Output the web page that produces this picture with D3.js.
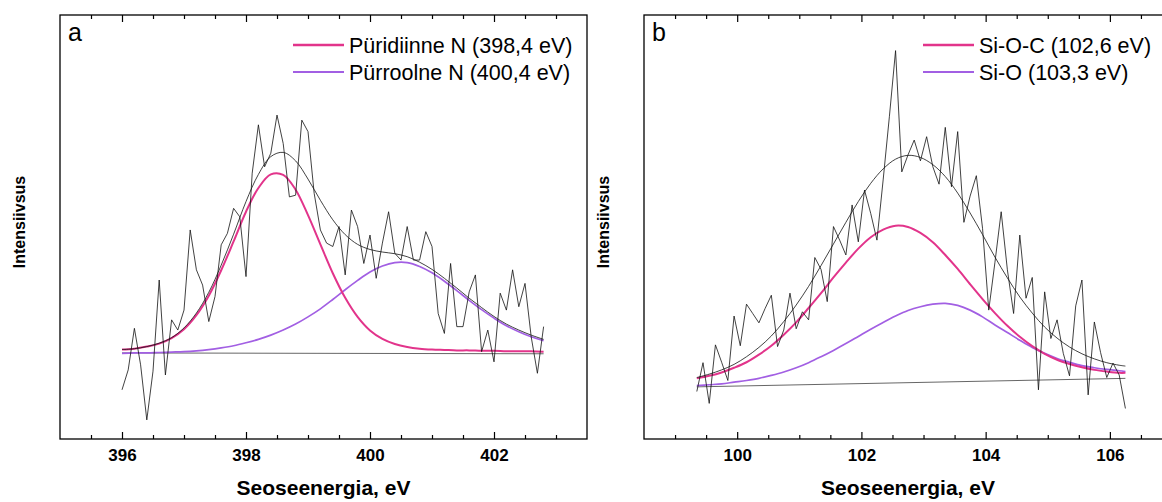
<!DOCTYPE html>
<html>
<head>
<meta charset="utf-8">
<script src="https://cdn.jsdelivr.net/npm/d3@7"></script>
<style>
  body { margin: 0; background: #fff; }
  svg { display: block; }
  text { font-family: "Liberation Sans", Arial, sans-serif; }
</style>
</head>
<body>
<svg id="chart" width="1162" height="502"></svg>
<script>
// ---- panel a: N 1s ----
const aRawStart = 396.0, aRawStep = 0.1
const aRaw = [11.6, 16.3, 26.1, 17.5, 4.5, 16.0, 37.5, 15.1, 28.1, 25.7,
  30.4, 49.3, 39.9, 36.3, 27.7, 33.6, 45.8, 48.5, 54.4, 52.4,
  38.3, 62.7, 74.1, 64.2, 67.4, 76.4, 69.7, 57.1, 57.5, 75.2,
  72.5, 57.9, 49.3, 46.2, 45.4, 50.1, 38.7, 54.0, 50.1, 41.4,
  48.1, 37.9, 46.2, 53.6, 43.8, 42.2, 50.1, 42.2, 42.2, 48.9,
  45.4, 29.6, 24.9, 41.4, 26.5, 26.5, 34.7, 38.7, 20.6, 25.7,
  18.2, 34.4, 30.4, 39.9, 31.2, 36.7, 24.1, 15.5, 26.5]
const aFitE = [396.0, 396.2, 396.4, 396.6, 396.8, 397.0, 397.2, 397.4, 397.6, 397.8,
  398.0, 398.2, 398.4, 398.6, 398.8, 399.0, 399.2, 399.4, 399.6, 399.8,
  400.0, 400.2, 400.4, 400.6, 400.8, 401.0, 401.2, 401.4, 401.6, 401.8,
  402.0, 402.2, 402.4, 402.6, 402.8]
const aPyridinic = [21.1, 21.3, 21.8, 22.5, 23.8, 25.9, 29.2, 33.8, 39.8, 46.6,
  53.6, 59.2, 62.4, 62.3, 58.8, 52.8, 45.9, 39.1, 33.3, 28.8,
  25.6, 23.6, 22.4, 21.7, 21.3, 21.1, 21.0, 20.9, 20.9, 20.8,
  20.8, 20.7, 20.7, 20.7, 20.6]
const aPyrrolic = [20.2, 20.3, 20.3, 20.4, 20.5, 20.6, 20.8, 21.1, 21.5, 22.0,
  22.7, 23.5, 24.5, 25.7, 27.1, 28.8, 30.7, 32.9, 35.2, 37.4,
  39.4, 40.8, 41.6, 41.6, 40.7, 39.2, 37.2, 35.0, 32.7, 30.5,
  28.5, 26.7, 25.3, 24.1, 23.2]
const aEnvelope = [21.1, 21.3, 21.8, 22.6, 23.9, 26.2, 29.7, 34.6, 41.0, 48.3,
  56.0, 62.4, 66.6, 67.6, 65.6, 61.3, 56.3, 51.7, 48.2, 45.9,
  44.7, 44.1, 43.7, 43.0, 41.7, 40.0, 37.9, 35.6, 33.2, 31.0,
  28.9, 27.1, 25.7, 24.5, 23.5]
const aBaseline = [[396.0, 20.3], [402.8, 20.1]]
const aLegend = ["Püridiinne N (398,4 eV)", "Pürroolne N (400,4 eV)"]
const aTicks = [396, 398, 400, 402]

// ---- panel b: Si 2p ----
const bRawStart = 99.35, bRawStep = 0.1
const bRaw = [11.2, 18.0, 8.4, 22.2, 18.1, 13.8, 29.0, 22.0, 31.8, 29.6,
  27.4, 30.8, 33.9, 21.8, 25.7, 34.4, 26.0, 30.0, 28.1, 42.8,
  40.0, 32.4, 50.1, 46.9, 43.4, 55.2, 46.5, 58.7, 53.2, 46.9,
  61.1, 76.0, 91.6, 63.0, 67.0, 70.5, 65.6, 71.3, 64.2, 60.1,
  73.5, 59.5, 72.5, 51.1, 57.3, 62.1, 49.7, 30.4, 41.7, 53.6,
  39.9, 29.6, 48.1, 33.2, 38.1, 11.6, 34.7, 23.7, 28.1, 20.2,
  14.9, 31.4, 37.5, 10.4, 27.6, 20.4, 14.5, 17.9, 15.1, 7.2]
const bFitE = [99.35, 99.55, 99.75, 99.95, 100.15, 100.35, 100.55, 100.75, 100.95, 101.15,
  101.35, 101.55, 101.75, 101.95, 102.15, 102.35, 102.55, 102.75, 102.95, 103.15,
  103.35, 103.55, 103.75, 103.95, 104.15, 104.35, 104.55, 104.75, 104.95, 105.15,
  105.35, 105.55, 105.75, 105.95, 106.15, 106.25]
const bSiOC = [14.3, 14.9, 15.7, 16.8, 18.1, 19.9, 22.0, 24.6, 27.5, 30.9,
  34.4, 38.1, 41.6, 44.9, 47.6, 49.4, 50.3, 50.0, 48.6, 46.4,
  43.4, 40.1, 36.5, 33.0, 29.7, 26.7, 24.1, 21.9, 20.1, 18.7,
  17.7, 16.9, 16.3, 15.9, 15.6, 15.6]
const bSiO = [12.6, 12.8, 13.0, 13.4, 13.8, 14.3, 15.0, 15.8, 16.8, 18.0,
  19.4, 20.9, 22.5, 24.2, 25.9, 27.5, 29.0, 30.3, 31.2, 31.8,
  32.0, 31.5, 30.4, 28.8, 26.9, 25.1, 23.3, 21.6, 20.2, 19.0,
  18.1, 17.3, 16.8, 16.4, 16.1, 15.9]
const bEnvelope = [14.5, 15.3, 16.3, 17.6, 19.4, 21.6, 24.3, 27.7, 31.6, 36.0,
  40.9, 46.0, 51.1, 56.0, 60.3, 63.7, 66.0, 66.9, 66.4, 64.7,
  61.9, 58.0, 53.3, 48.2, 42.9, 38.0, 33.5, 29.7, 26.4, 23.8,
  21.7, 20.1, 18.9, 18.0, 17.4, 17.2]
const bBaseline = [[99.35, 12.3], [106.25, 14.3]]
const bLegend = ["Si-O-C (102,6 eV)", "Si-O (103,3 eV)"]
const bTicks = [100, 102, 104, 106]

const pink = "#e2348b"
const purple = "#a25fe3"

const svg = d3.select("#chart")
const plotTop = 15, plotBottom = 439

function zip(xs, ys) { return xs.map((e, i) => [e, ys[i]]) }
function rawPairs(start, step, vals) { return vals.map((v, i) => [start + i * step, v]) }

function drawPanel(p) {
  const x = d3.scaleLinear().domain(p.xDomain).range([p.left, p.right])
  const y = d3.scaleLinear().domain([0, 100]).range([plotBottom, plotTop])
  const g = svg.append("g")

  const line = d3.line().x((d) => x(d[0])).y((d) => y(d[1]))
  const smooth = d3.line().x((d) => x(d[0])).y((d) => y(d[1])).curve(d3.curveCatmullRom)

  // baseline, components, raw data, envelope
  g.append("path").attr("d", line(p.baseline)).attr("fill", "none").attr("stroke", "#555").attr("stroke-width", 0.9)
  g.append("path").attr("d", smooth(zip(p.fitE, p.comp2))).attr("fill", "none").attr("stroke", purple).attr("stroke-width", 1.7)
  g.append("path").attr("d", smooth(zip(p.fitE, p.comp1))).attr("fill", "none").attr("stroke", pink).attr("stroke-width", 2)
  g.append("path").attr("d", line(rawPairs(p.rawStart, p.rawStep, p.raw))).attr("fill", "none").attr("stroke", "#111").attr("stroke-width", 0.8)
  g.append("path").attr("d", smooth(zip(p.fitE, p.envelope))).attr("fill", "none").attr("stroke", "#111").attr("stroke-width", 0.8)

  // frame
  g.append("rect").attr("x", p.left).attr("y", plotTop).attr("width", p.right - p.left).attr("height", plotBottom - plotTop)
    .attr("fill", "none").attr("stroke", "#000").attr("stroke-width", 1.3)

  const minor = d3.range(p.xDomain[0] + 0.5, p.xDomain[1], 0.5).filter((v) => !p.ticks.includes(v))

  const axB = g.append("g").attr("transform", `translate(0,${plotBottom})`)
    .call(d3.axisBottom(x).tickValues(p.ticks).tickSize(-7).tickPadding(10).tickFormat(d3.format("d")))
  axB.append("g").call(d3.axisBottom(x).tickValues(minor).tickSize(-4).tickFormat(""))
  const axT = g.append("g").attr("transform", `translate(0,${plotTop})`)
    .call(d3.axisTop(x).tickValues(p.ticks).tickSize(-7).tickFormat(""))
  axT.append("g").call(d3.axisTop(x).tickValues(minor).tickSize(-4).tickFormat(""))
  g.selectAll(".domain").remove()
  g.selectAll(".tick line").attr("stroke", "#000").attr("stroke-width", 1.2)
  axB.selectAll(".tick text").attr("font-size", 17).attr("font-weight", "bold")
    .attr("font-family", "'Liberation Sans', Arial, sans-serif").attr("fill", "#000")

  // axis titles
  g.append("text").attr("x", (p.left + p.right) / 2).attr("y", 495).attr("text-anchor", "middle")
    .attr("font-size", 21).attr("font-weight", "bold").text("Seoseenergia, eV")
  g.append("text").attr("transform", `translate(${p.left - 35},${(plotTop + plotBottom) / 2 - 5}) rotate(-90)`)
    .attr("text-anchor", "middle").attr("font-size", 16).attr("font-weight", "bold").text("Intensiivsus")

  // panel letter
  g.append("text").attr("x", p.left + 8).attr("y", 41).attr("font-size", 25).text(p.letter)

  // legend
  const cols = [pink, purple]
  p.legend.forEach((t, i) => {
    const ly = 45 + i * 27
    g.append("line").attr("x1", p.legX).attr("x2", p.legX + 51).attr("y1", ly).attr("y2", ly)
      .attr("stroke", cols[i]).attr("stroke-width", i === 0 ? 2.4 : 1.8)
    g.append("text").attr("x", p.legX + 56).attr("y", ly + 7.5).attr("font-size", 21.5).text(t)
  })
}

drawPanel({
  letter: "a", xDomain: [395, 403.5], left: 60, right: 587, ticks: aTicks,
  rawStart: aRawStart, rawStep: aRawStep, raw: aRaw,
  fitE: aFitE, comp1: aPyridinic, comp2: aPyrrolic, envelope: aEnvelope, baseline: aBaseline,
  legend: aLegend, legX: 293
})
drawPanel({
  letter: "b", xDomain: [98.5, 107], left: 644, right: 1172, ticks: bTicks,
  rawStart: bRawStart, rawStep: bRawStep, raw: bRaw,
  fitE: bFitE, comp1: bSiOC, comp2: bSiO, envelope: bEnvelope, baseline: bBaseline,
  legend: bLegend, legX: 923
})
</script>
</body>
</html>
